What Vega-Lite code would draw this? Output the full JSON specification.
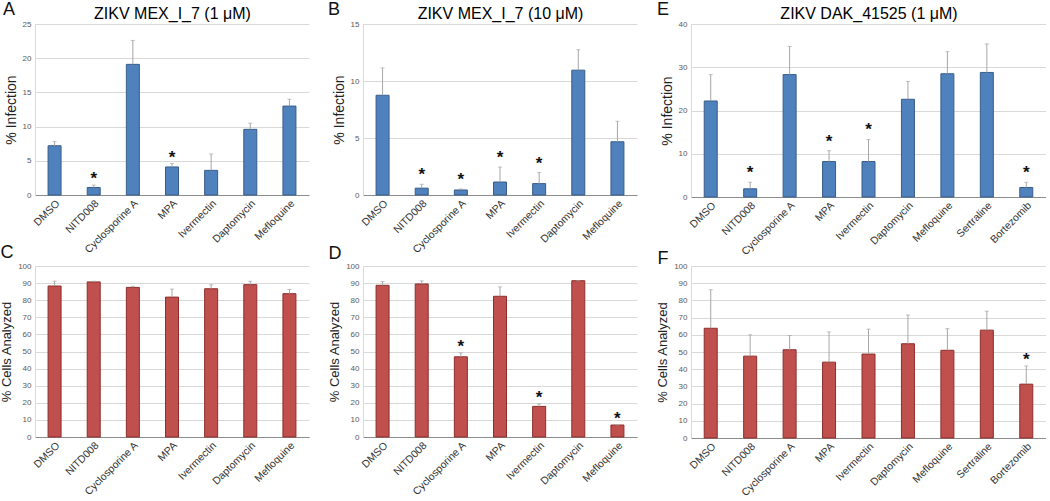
{
  "$schema": "https://vega.github.io/schema/vega-lite/v6.json",
  "background": "white",
  "padding": {"left": 0, "top": 1, "right": 0, "bottom": 0},
  "config": {
    "font": "Liberation Sans",
    "view": {"stroke": null},
    "axisBottom": {"labelAngle": -45, "labelFontSize": 10.5, "labelColor": "#333333", "ticks": false, "domainColor": "#8C8C8C", "grid": false, "labelPadding": 3},
    "axisTop": {"labels": false, "ticks": false, "domain": false, "grid": false, "titleFontSize": 16, "titleFontWeight": "normal", "titleColor": "#000000", "titlePadding": 3},
    "axisLeft": {"labelFontSize": 8, "labelColor": "#595959", "ticks": false, "domainColor": "#D9D9D9", "gridColor": "#D9D9D9", "grid": true, "labelPadding": 4, "titleFontSize": 14, "titleFontWeight": "normal", "titleColor": "#222222", "titlePadding": 4}
  },
  "datasets": {
    "A": [
      {"drug": "DMSO", "value": 7.2, "upper": 7.8, "star": ""},
      {"drug": "NITD008", "value": 1.1, "upper": 1.45, "star": "*"},
      {"drug": "Cyclosporine A", "value": 19.1, "upper": 22.6, "star": ""},
      {"drug": "MPA", "value": 4.1, "upper": 4.6, "star": "*"},
      {"drug": "Ivermectin", "value": 3.6, "upper": 6.0, "star": ""},
      {"drug": "Daptomycin", "value": 9.6, "upper": 10.5, "star": ""},
      {"drug": "Mefloquine", "value": 13.0, "upper": 14.0, "star": ""}
    ],
    "B": [
      {"drug": "DMSO", "value": 8.75, "upper": 11.15, "star": ""},
      {"drug": "NITD008", "value": 0.6, "upper": 0.94, "star": "*"},
      {"drug": "Cyclosporine A", "value": 0.44, "upper": 0.53, "star": "*"},
      {"drug": "MPA", "value": 1.14, "upper": 2.45, "star": "*"},
      {"drug": "Ivermectin", "value": 1.0, "upper": 1.97, "star": "*"},
      {"drug": "Daptomycin", "value": 10.95, "upper": 12.75, "star": ""},
      {"drug": "Mefloquine", "value": 4.67, "upper": 6.48, "star": ""}
    ],
    "E": [
      {"drug": "DMSO", "value": 22.2, "upper": 28.3, "star": ""},
      {"drug": "NITD008", "value": 1.9, "upper": 3.4, "star": "*"},
      {"drug": "Cyclosporine A", "value": 28.3, "upper": 34.8, "star": ""},
      {"drug": "MPA", "value": 8.2, "upper": 10.7, "star": "*"},
      {"drug": "Ivermectin", "value": 8.2, "upper": 13.3, "star": "*"},
      {"drug": "Daptomycin", "value": 22.6, "upper": 26.7, "star": ""},
      {"drug": "Mefloquine", "value": 28.5, "upper": 33.6, "star": ""},
      {"drug": "Sertraline", "value": 28.8, "upper": 35.4, "star": ""},
      {"drug": "Bortezomib", "value": 2.2, "upper": 3.4, "star": "*"}
    ],
    "C": [
      {"drug": "DMSO", "value": 88.3, "upper": 91.1, "star": ""},
      {"drug": "NITD008", "value": 90.7, "upper": 91.1, "star": ""},
      {"drug": "Cyclosporine A", "value": 87.5, "upper": 88.1, "star": ""},
      {"drug": "MPA", "value": 81.8, "upper": 86.5, "star": ""},
      {"drug": "Ivermectin", "value": 86.7, "upper": 89.0, "star": ""},
      {"drug": "Daptomycin", "value": 89.1, "upper": 91.1, "star": ""},
      {"drug": "Mefloquine", "value": 83.8, "upper": 86.3, "star": ""}
    ],
    "D": [
      {"drug": "DMSO", "value": 88.7, "upper": 90.9, "star": ""},
      {"drug": "NITD008", "value": 89.5, "upper": 91.3, "star": ""},
      {"drug": "Cyclosporine A", "value": 46.9, "upper": 49.2, "star": "*"},
      {"drug": "MPA", "value": 82.3, "upper": 87.8, "star": ""},
      {"drug": "Ivermectin", "value": 17.9, "upper": 19.4, "star": "*"},
      {"drug": "Daptomycin", "value": 91.4, "upper": 91.4, "star": ""},
      {"drug": "Mefloquine", "value": 7.0, "upper": 7.0, "star": "*"}
    ],
    "F": [
      {"drug": "DMSO", "value": 63.8, "upper": 86.2, "star": ""},
      {"drug": "NITD008", "value": 47.6, "upper": 60.0, "star": ""},
      {"drug": "Cyclosporine A", "value": 51.3, "upper": 59.6, "star": ""},
      {"drug": "MPA", "value": 44.1, "upper": 61.7, "star": ""},
      {"drug": "Ivermectin", "value": 48.8, "upper": 63.3, "star": ""},
      {"drug": "Daptomycin", "value": 54.8, "upper": 71.5, "star": ""},
      {"drug": "Mefloquine", "value": 51.0, "upper": 63.6, "star": ""},
      {"drug": "Sertraline", "value": 62.7, "upper": 73.7, "star": ""},
      {"drug": "Bortezomib", "value": 31.3, "upper": 41.9, "star": "*"}
    ]
  },
  "columns": 3,
  "bounds": "flush",
  "spacing": {"row": 69, "column": 54},
  "concat": [
    {
      "width": 274, "height": 171,
      "data": {"name": "A"},
      "title": {"text": "A", "anchor": "start", "frame": "group", "fontSize": 18, "fontWeight": "normal", "color": "#111111", "dx": -32, "dy": 14, "offset": 0},
      "resolve": {"axis": {"x": "independent", "y": "independent"}},
      "encoding": {
        "x": {"field": "drug", "type": "nominal", "sort": null, "scale": {"paddingInner": 0, "paddingOuter": 0}, "axis": null},
        "y": {"field": "value", "type": "quantitative", "scale": {"domain": [0, 25], "nice": false}, "axis": null}
      },
      "layer": [
        {"mark": {"type": "bar", "width": 13, "fill": "#4F81BD", "stroke": "#385D8A", "strokeWidth": 1},
         "encoding": {
           "x": {"field": "drug", "type": "nominal", "sort": null, "axis": {"orient": "bottom", "title": null}},
           "y": {"field": "value", "type": "quantitative", "axis": {"title": "% Infection", "values": [0, 5, 10, 15, 20, 25]}}
         }},
        {"mark": {"type": "rule", "color": "#A6A6A6", "strokeWidth": 1}, "encoding": {"y2": {"field": "upper"}}},
        {"mark": {"type": "tick", "color": "#A6A6A6", "size": 4, "thickness": 1},
         "encoding": {
           "x": {"field": "drug", "type": "nominal", "sort": null, "axis": {"orient": "top", "title": "ZIKV MEX_I_7 (1 μM)"}},
           "y": {"field": "upper", "type": "quantitative", "axis": null}
         }},
        {"mark": {"type": "text", "fontSize": 17, "fontWeight": "bold", "color": "#111111", "baseline": "middle", "dy": -6},
         "encoding": {"y": {"field": "upper", "type": "quantitative", "axis": null}, "text": {"field": "star"}}}
      ]
    },
    {
      "width": 274, "height": 171,
      "data": {"name": "B"},
      "title": {"text": "B", "anchor": "start", "frame": "group", "fontSize": 18, "fontWeight": "normal", "color": "#111111", "dx": -35, "dy": 14, "offset": 0},
      "resolve": {"axis": {"x": "independent", "y": "independent"}},
      "encoding": {
        "x": {"field": "drug", "type": "nominal", "sort": null, "scale": {"paddingInner": 0, "paddingOuter": 0}, "axis": null},
        "y": {"field": "value", "type": "quantitative", "scale": {"domain": [0, 15], "nice": false}, "axis": null}
      },
      "layer": [
        {"mark": {"type": "bar", "width": 13, "fill": "#4F81BD", "stroke": "#385D8A", "strokeWidth": 1},
         "encoding": {
           "x": {"field": "drug", "type": "nominal", "sort": null, "axis": {"orient": "bottom", "title": null}},
           "y": {"field": "value", "type": "quantitative", "axis": {"title": "% Infection", "values": [0, 5, 10, 15]}}
         }},
        {"mark": {"type": "rule", "color": "#A6A6A6", "strokeWidth": 1}, "encoding": {"y2": {"field": "upper"}}},
        {"mark": {"type": "tick", "color": "#A6A6A6", "size": 4, "thickness": 1},
         "encoding": {
           "x": {"field": "drug", "type": "nominal", "sort": null, "axis": {"orient": "top", "title": "ZIKV MEX_I_7 (10 μM)"}},
           "y": {"field": "upper", "type": "quantitative", "axis": null}
         }},
        {"mark": {"type": "text", "fontSize": 17, "fontWeight": "bold", "color": "#111111", "baseline": "middle", "dy": -9},
         "encoding": {"y": {"field": "upper", "type": "quantitative", "axis": null}, "text": {"field": "star"}}}
      ]
    },
    {
      "width": 355, "height": 173,
      "data": {"name": "E"},
      "title": {"text": "E", "anchor": "start", "frame": "group", "fontSize": 18, "fontWeight": "normal", "color": "#111111", "dx": -34, "dy": 14, "offset": 0},
      "resolve": {"axis": {"x": "independent", "y": "independent"}},
      "encoding": {
        "x": {"field": "drug", "type": "nominal", "sort": null, "scale": {"paddingInner": 0, "paddingOuter": 0}, "axis": null},
        "y": {"field": "value", "type": "quantitative", "scale": {"domain": [0, 40], "nice": false}, "axis": null}
      },
      "layer": [
        {"mark": {"type": "bar", "width": 13, "fill": "#4F81BD", "stroke": "#385D8A", "strokeWidth": 1},
         "encoding": {
           "x": {"field": "drug", "type": "nominal", "sort": null, "axis": {"orient": "bottom", "title": null}},
           "y": {"field": "value", "type": "quantitative", "axis": {"title": "% Infection", "values": [0, 10, 20, 30, 40]}}
         }},
        {"mark": {"type": "rule", "color": "#A6A6A6", "strokeWidth": 1}, "encoding": {"y2": {"field": "upper"}}},
        {"mark": {"type": "tick", "color": "#A6A6A6", "size": 4, "thickness": 1},
         "encoding": {
           "x": {"field": "drug", "type": "nominal", "sort": null, "axis": {"orient": "top", "title": "ZIKV DAK_41525 (1 μM)"}},
           "y": {"field": "upper", "type": "quantitative", "axis": null}
         }},
        {"mark": {"type": "text", "fontSize": 17, "fontWeight": "bold", "color": "#111111", "baseline": "middle", "dy": -9},
         "encoding": {"y": {"field": "upper", "type": "quantitative", "axis": null}, "text": {"field": "star"}}}
      ]
    },
    {
      "width": 274, "height": 171,
      "data": {"name": "C"},
      "resolve": {"axis": {"x": "independent", "y": "independent"}},
      "encoding": {
        "x": {"field": "drug", "type": "nominal", "sort": null, "scale": {"paddingInner": 0, "paddingOuter": 0}, "axis": null},
        "y": {"field": "value", "type": "quantitative", "scale": {"domain": [0, 100], "nice": false}, "axis": null}
      },
      "layer": [
        {"mark": {"type": "bar", "width": 13, "fill": "#C0504D", "stroke": "#8B2E2B", "strokeWidth": 1},
         "encoding": {
           "x": {"field": "drug", "type": "nominal", "sort": null, "axis": {"orient": "bottom", "title": null}},
           "y": {"field": "value", "type": "quantitative", "axis": {"title": "% Cells Analyzed", "titleFontSize": 13, "values": [0, 10, 20, 30, 40, 50, 60, 70, 80, 90, 100]}}
         }},
        {"mark": {"type": "rule", "color": "#A6A6A6", "strokeWidth": 1}, "encoding": {"y2": {"field": "upper"}}},
        {"mark": {"type": "tick", "color": "#A6A6A6", "size": 4, "thickness": 1},
         "encoding": {
           "x": {"field": "drug", "type": "nominal", "sort": null, "axis": {"orient": "top", "title": "C", "titleFontSize": 18, "titleColor": "#111111", "titleX": -35, "titleY": -9, "titleAlign": "left", "titleBaseline": "alphabetic", "titleAnchor": "start"}},
           "y": {"field": "upper", "type": "quantitative", "axis": null}
         }},
        {"mark": {"type": "text", "fontSize": 17, "fontWeight": "bold", "color": "#111111", "baseline": "middle", "dy": -6},
         "encoding": {"y": {"field": "upper", "type": "quantitative", "axis": null}, "text": {"field": "star"}}}
      ]
    },
    {
      "width": 274, "height": 171,
      "data": {"name": "D"},
      "resolve": {"axis": {"x": "independent", "y": "independent"}},
      "encoding": {
        "x": {"field": "drug", "type": "nominal", "sort": null, "scale": {"paddingInner": 0, "paddingOuter": 0}, "axis": null},
        "y": {"field": "value", "type": "quantitative", "scale": {"domain": [0, 100], "nice": false}, "axis": null}
      },
      "layer": [
        {"mark": {"type": "bar", "width": 13, "fill": "#C0504D", "stroke": "#8B2E2B", "strokeWidth": 1},
         "encoding": {
           "x": {"field": "drug", "type": "nominal", "sort": null, "axis": {"orient": "bottom", "title": null}},
           "y": {"field": "value", "type": "quantitative", "axis": {"title": "% Cells Analyzed", "titleFontSize": 13, "values": [0, 10, 20, 30, 40, 50, 60, 70, 80, 90, 100]}}
         }},
        {"mark": {"type": "rule", "color": "#A6A6A6", "strokeWidth": 1}, "encoding": {"y2": {"field": "upper"}}},
        {"mark": {"type": "tick", "color": "#A6A6A6", "size": 4, "thickness": 1},
         "encoding": {
           "x": {"field": "drug", "type": "nominal", "sort": null, "axis": {"orient": "top", "title": "D", "titleFontSize": 18, "titleColor": "#111111", "titleX": -35, "titleY": -8, "titleAlign": "left", "titleBaseline": "alphabetic", "titleAnchor": "start"}},
           "y": {"field": "upper", "type": "quantitative", "axis": null}
         }},
        {"mark": {"type": "text", "fontSize": 17, "fontWeight": "bold", "color": "#111111", "baseline": "middle", "dy": -6},
         "encoding": {"y": {"field": "upper", "type": "quantitative", "axis": null}, "text": {"field": "star"}}}
      ]
    },
    {
      "width": 355, "height": 172,
      "data": {"name": "F"},
      "resolve": {"axis": {"x": "independent", "y": "independent"}},
      "encoding": {
        "x": {"field": "drug", "type": "nominal", "sort": null, "scale": {"paddingInner": 0, "paddingOuter": 0}, "axis": null},
        "y": {"field": "value", "type": "quantitative", "scale": {"domain": [0, 100], "nice": false}, "axis": null}
      },
      "layer": [
        {"mark": {"type": "bar", "width": 13, "fill": "#C0504D", "stroke": "#8B2E2B", "strokeWidth": 1},
         "encoding": {
           "x": {"field": "drug", "type": "nominal", "sort": null, "axis": {"orient": "bottom", "title": null}},
           "y": {"field": "value", "type": "quantitative", "axis": {"title": "% Cells Analyzed", "titleFontSize": 13, "values": [0, 10, 20, 30, 40, 50, 60, 70, 80, 90, 100]}}
         }},
        {"mark": {"type": "rule", "color": "#A6A6A6", "strokeWidth": 1}, "encoding": {"y2": {"field": "upper"}}},
        {"mark": {"type": "tick", "color": "#A6A6A6", "size": 4, "thickness": 1},
         "encoding": {
           "x": {"field": "drug", "type": "nominal", "sort": null, "axis": {"orient": "top", "title": "F", "titleFontSize": 18, "titleColor": "#111111", "titleX": -34, "titleY": -3, "titleAlign": "left", "titleBaseline": "alphabetic", "titleAnchor": "start"}},
           "y": {"field": "upper", "type": "quantitative", "axis": null}
         }},
        {"mark": {"type": "text", "fontSize": 17, "fontWeight": "bold", "color": "#111111", "baseline": "middle", "dy": -6},
         "encoding": {"y": {"field": "upper", "type": "quantitative", "axis": null}, "text": {"field": "star"}}}
      ]
    }
  ]
}
